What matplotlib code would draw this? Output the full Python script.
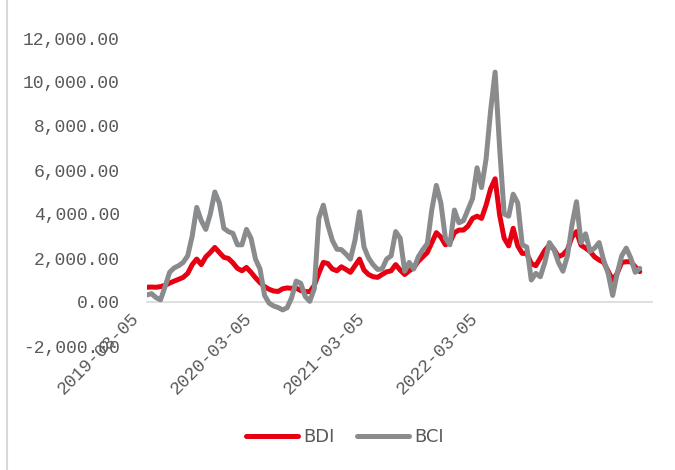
import numpy as np
import matplotlib
matplotlib.use("Agg")
import matplotlib.pyplot as plt
import matplotlib.ticker as mticker
import matplotlib.lines as mlines
import matplotlib.transforms as mtrans

# weekly-ish readings, index 0 = 2019-03-05
bdi = [670, 680, 670, 700, 760, 860, 950, 1030, 1120, 1300,
       1700, 1950, 1700, 2050, 2250, 2480, 2250, 2030, 1980, 1780,
       1530, 1420, 1570, 1350, 1100, 880, 700, 580, 500, 480,
       600, 640, 620, 630, 520, 470, 470, 750, 1300, 1800,
       1750, 1500, 1420, 1600, 1480, 1350, 1650, 1950, 1450, 1250,
       1150, 1120, 1250, 1370, 1420, 1700, 1450, 1250, 1420, 1560,
       1850, 2050, 2250, 2700, 3150, 2950, 2600, 2700, 3150, 3270,
       3270, 3450, 3800, 3900, 3800, 4400, 5150, 5600, 3950, 2900,
       2550, 3350, 2550, 2210, 2210, 1750, 1650, 2000, 2350, 2590,
       2400, 2060, 2150, 2380, 2950, 3200, 2580, 2450, 2300, 2050,
       1910, 1800, 1400, 1000, 1300, 1800, 1830, 1830, 1600, 1380]

bci = [320, 380, 200, 100, 700, 1350, 1550, 1650, 1800, 2100,
       3000, 4300, 3700, 3300, 4000, 5000, 4500, 3350, 3200, 3120,
       2600, 2600, 3300, 2900, 1950, 1500, 300, -50, -180, -250,
       -360, -260, 200, 950, 850, 250, 30, 600, 3800, 4400,
       3500, 2800, 2400, 2380, 2180, 1950, 2800, 4100, 2500, 2000,
       1700, 1480, 1500, 1950, 2100, 3200, 2900, 1400, 1800, 1500,
       2050, 2380, 2650, 4200, 5300, 4500, 2900, 2600, 4180, 3600,
       3700, 4200, 4700, 6100, 5200, 6500, 8700, 10450, 7000, 4000,
       3900, 4900, 4500, 2600, 2500, 1000, 1300, 1150, 1800, 2700,
       2400, 1800, 1400, 2100, 3500, 4560, 2700, 3100, 2300, 2450,
       2700, 1900, 1300, 300, 1300, 2100, 2450, 2000, 1350, 1530]

tick_labels = ['2019-03-05', '2020-03-05', '2021-03-05', '2022-03-05']
tick_pos = [0, 25, 50, 75]

red = '#e60012'
grey = '#898b8d'
txt = '#595959'
mono = 'Liberation Mono'

fig = plt.figure(figsize=(6.75, 4.7), dpi=100)
ax = fig.add_axes([147 / 675, 1 - 346 / 470, 505 / 675, 308 / 470])

x = np.arange(len(bdi))
ax.plot(x, bdi, color=red, lw=3.6, solid_capstyle='round', label='BDI')
ax.plot(x, bci, color=grey, lw=3.6, solid_capstyle='round', label='BCI')

ax.set_xlim(0, 111.7)
ax.set_ylim(-2000, 12000)
ax.yaxis.set_major_locator(mticker.MultipleLocator(2000))
ax.yaxis.set_major_formatter(mticker.FuncFormatter(lambda v, p: '{:,.2f}'.format(v)))

for s in ['top', 'right', 'left']:
    ax.spines[s].set_visible(False)
ax.spines['bottom'].set_position(('data', 0))
ax.spines['bottom'].set_color('#d9d9d9')
ax.spines['bottom'].set_linewidth(1.2)
ax.spines['bottom'].set_zorder(0)

ax.set_xticks(tick_pos)
ax.set_xticklabels(tick_labels, rotation=45, ha='right', va='center', rotation_mode='anchor')
ax.tick_params(axis='both', length=0, colors=txt, labelsize=13)
ax.tick_params(axis='y', pad=19.5)
ax.tick_params(axis='x', pad=2)
shift = mtrans.ScaledTranslation(-0.10, -0.11, fig.dpi_scale_trans)
for lab in ax.get_xticklabels():
    lab.set_family(mono)
    lab.set_transform(lab.get_transform() + shift)
for lab in ax.get_yticklabels():
    lab.set_family(mono)

leg = fig.legend(loc='center', bbox_to_anchor=(345 / 675, 1 - 437 / 470), ncol=2,
                 frameon=False, fontsize=13, handlelength=2.9, columnspacing=1.2,
                 handletextpad=0.3)
for t in leg.get_texts():
    t.set_color(txt)

# chart area border on the left
fig.add_artist(mlines.Line2D([7 / 675, 7 / 675], [0, 1], color='#d9d9d9', lw=1.5))

fig.savefig('out.png', dpi=100)
